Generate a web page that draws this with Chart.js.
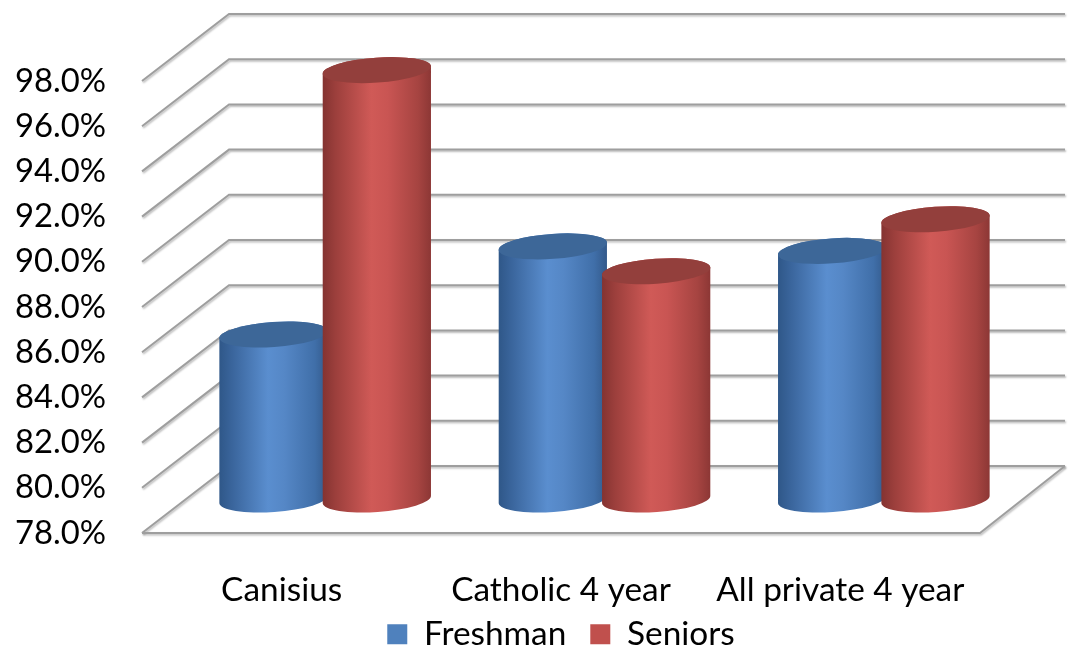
<!DOCTYPE html>
<html>
<head>
<meta charset="utf-8">
<script src="https://cdn.jsdelivr.net/npm/chart.js@4.4.1/dist/chart.umd.min.js"></script>
<style>
  html, body { margin: 0; padding: 0; background: #ffffff; }
  #wrap { width: 1076px; height: 650px; }
</style>
</head>
<body>
<div id="wrap"><canvas id="c" width="1076" height="650"></canvas></div>
<script>
// ---- data ----
const categories = ['Canisius', 'Catholic 4 year', 'All private 4 year'];
const seriesNames = ['Freshman', 'Seniors'];
const freshman = [85.3, 89.2, 89.0];
const seniors = [97.0, 88.1, 90.4];
const yTickValues = [78, 80, 82, 84, 86, 88, 90, 92, 94, 96, 98];

// ---- style ----
const FONT = 'Lato';
const meas = document.createElement('canvas').getContext('2d');
meas.font = '100px ' + FONT;
function fitSize(text, target) {
  return Math.round(100 * target / meas.measureText(text).width * 10) / 10;
}
const FS = fitSize('Catholic 4 year', 220);
const FS_TICK = fitSize('98.0%', 91);

const DEPTH_DX = 87, DEPTH_DY = -67;           // full floor depth
const BAR_DX = DEPTH_DX / 2, BAR_DY = DEPTH_DY / 2; // bars sit mid-depth
const ELL_RY = 12.5, ELL_ROT = -0.07;

const palette = {
  Freshman: { solid: '#4F81BD', top: '#3d6798',
    stops: [[0, '#2f5788'], [0.12, '#3a659c'], [0.45, '#5a8ecf'], [0.6, '#5587c6'], [0.88, '#406fa9'], [1, '#33598a']] },
  Seniors: { solid: '#C0504D', top: '#933f3c',
    stops: [[0, '#843331'], [0.12, '#9c3f3c'], [0.45, '#d05a57'], [0.6, '#c95553'], [0.88, '#a64441'], [1, '#8c3735']] }
};

function drawGrid(chart) {
  const ctx = chart.ctx, ys = chart.scales.y, a = chart.chartArea;
  const fl = a.left, fr = a.right;
  ctx.save();
  ctx.strokeStyle = '#9e9e9e';
  ctx.lineWidth = 2;
  ctx.shadowColor = 'rgba(0,0,0,0.28)';
  ctx.shadowBlur = 2;
  ctx.shadowOffsetX = 1;
  ctx.shadowOffsetY = 1.5;
  ctx.lineJoin = 'miter';
  yTickValues.forEach(v => {
    const yf = ys.getPixelForValue(v);
    ctx.beginPath();
    ctx.moveTo(fl, yf);
    ctx.lineTo(fl + DEPTH_DX, yf + DEPTH_DY);
    ctx.lineTo(fr + DEPTH_DX - 2, yf + DEPTH_DY);
    ctx.stroke();
  });
  // floor front & right edges
  const y0 = ys.getPixelForValue(yTickValues[0]);
  ctx.beginPath();
  ctx.moveTo(fl, y0);
  ctx.lineTo(fr, y0);
  ctx.lineTo(fr + DEPTH_DX - 2, y0 + DEPTH_DY);
  ctx.stroke();
  ctx.restore();
}

function drawCylinder(ctx, cx, topY, baseY, rx, pal) {
  const ry = ELL_RY, rot = ELL_ROT;
  const c = Math.cos(rot), s = Math.sin(rot);
  const grad = ctx.createLinearGradient(cx - rx, 0, cx + rx, 0);
  pal.stops.forEach(st => grad.addColorStop(st[0], st[1]));
  ctx.save();
  ctx.beginPath();
  ctx.moveTo(cx - rx * c, topY - rx * s);
  ctx.lineTo(cx - rx * c, baseY - rx * s);
  ctx.ellipse(cx, baseY, rx, ry, rot, Math.PI, 0, true);
  ctx.lineTo(cx + rx * c, topY + rx * s);
  ctx.ellipse(cx, topY, rx, ry, rot, 0, Math.PI, true);
  ctx.closePath();
  ctx.fillStyle = grad;
  ctx.fill();
  // top cap
  ctx.beginPath();
  ctx.ellipse(cx, topY, rx, ry, rot, 0, Math.PI * 2);
  ctx.fillStyle = pal.top;
  ctx.fill();
  ctx.restore();
}

const cylinderPlugin = {
  id: 'cylinders',
  beforeDatasetsDraw(chart) {
    drawGrid(chart);
    const ctx = chart.ctx;
    const ys = chart.scales.y;
    const basePix = ys.getPixelForValue(ys.min);
    const n = chart.data.labels.length;
    for (let i = 0; i < n; i++) {
      chart.data.datasets.forEach((ds, di) => {
        const bar = chart.getDatasetMeta(di).data[i];
        if (!bar) return;
        const rx = bar.width / 2 * 1.05;
        drawCylinder(ctx, bar.x + BAR_DX, bar.y + BAR_DY, basePix + BAR_DY, rx, palette[ds.label]);
      });
    }
    return false;
  }
};

Chart.defaults.font.family = FONT;
Chart.defaults.font.size = FS;
Chart.defaults.color = '#000000';

new Chart(document.getElementById('c'), {
  type: 'bar',
  data: {
    labels: categories,
    datasets: [
      { label: seriesNames[0], data: freshman, backgroundColor: palette.Freshman.solid, borderWidth: 0 },
      { label: seriesNames[1], data: seniors, backgroundColor: palette.Seniors.solid, borderWidth: 0 }
    ]
  },
  options: {
    responsive: false,
    animation: false,
    events: [],
    layout: { padding: { left: 0, right: 96, top: 81, bottom: 0 } },
    datasets: { bar: { categoryPercentage: 0.74, barPercentage: 1.0 } },
    scales: {
      x: {
        grid: { display: false, drawTicks: false },
        border: { display: false },
        ticks: { padding: 37, maxRotation: 0, autoSkip: false, font: { size: FS, lineHeight: 1.2 } },
        afterFit(s) {
          s.height = 60.5; s.paddingLeft = 0; s.paddingRight = 0;
          s._computeLabelArea = () => undefined; // let labels overflow the axis box
        }
      },
      y: {
        min: 78, max: 98,
        grid: { display: false, drawTicks: false },
        border: { display: false },
        afterBuildTicks(s) { s.ticks = yTickValues.map(v => ({ value: v })); },
        ticks: { padding: 36, font: { size: FS_TICK }, callback: v => Number(v).toFixed(1) + '%' },
        afterFit(s) { s.width = 142; s.paddingTop = 0; s.paddingBottom = 0; }
      }
    },
    plugins: {
      tooltip: { enabled: false },
      legend: {
        position: 'bottom',
        fullSize: false,
        maxHeight: 56.5,
        labels: { boxWidth: 20, boxHeight: 20, padding: 24, font: { size: FS, lineHeight: 1.0 } }
      }
    }
  },
  plugins: [cylinderPlugin]
});
</script>
</body>
</html>
